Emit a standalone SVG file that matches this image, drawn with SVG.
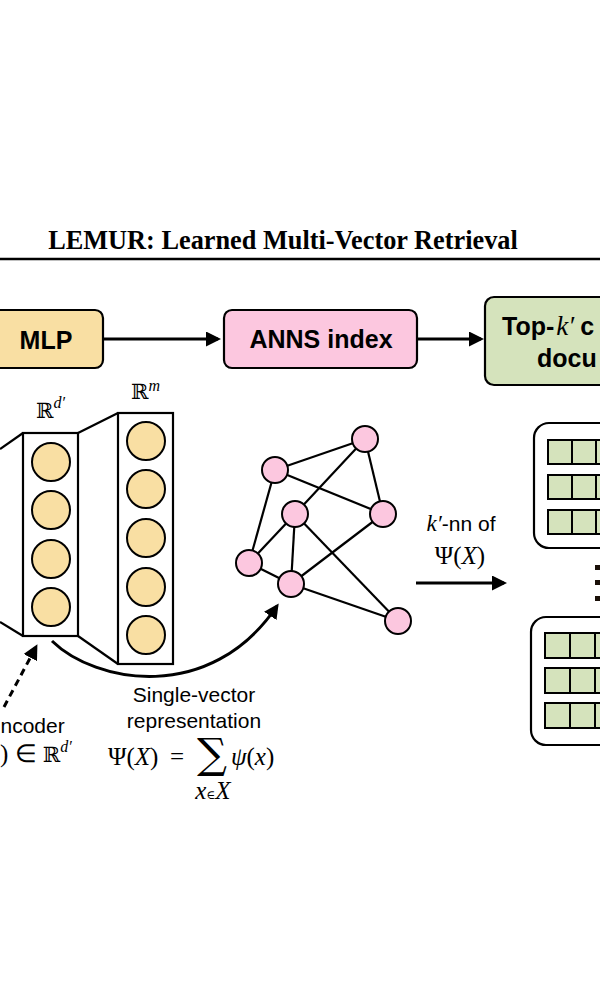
<svg xmlns="http://www.w3.org/2000/svg" width="600" height="1000" viewBox="0 0 600 1000">
<defs>
<marker id="ah" markerWidth="5" markerHeight="5" refX="4" refY="2.5" orient="auto" markerUnits="strokeWidth">
<path d="M0,0 L5,2.5 L0,5 Z" fill="#000"/>
</marker>
<marker id="ah2" markerWidth="5" markerHeight="5" refX="4" refY="2.5" orient="auto" markerUnits="strokeWidth">
<path d="M0,0 L5,2.5 L0,5 Z" fill="#000"/>
</marker>
<style>
.box{stroke:#000;stroke-width:2.2}
.orange{fill:#f9dfa3}
.pink{fill:#fcc7df}
.green{fill:#d5e3bc}
.lbl{font-family:"Liberation Sans",Arial,sans-serif;font-weight:bold;font-size:25px;fill:#000}
.sans{font-family:"Liberation Sans",Arial,sans-serif;font-size:21px;fill:#000}
.math{font-family:"Liberation Serif","Times New Roman",serif;font-size:25px;fill:#000}
.bb{font-family:"DejaVu Serif",serif;font-size:21px;fill:#000}
.edge{stroke:#000;stroke-width:2.2;fill:none}
.neuron{fill:#f9dfa3;stroke:#000;stroke-width:2}
.gnode{fill:#fcc7df;stroke:#000;stroke-width:2}
.cell{fill:#d5e3bc;stroke:#000;stroke-width:2}
.conn{stroke:#000;stroke-width:3;fill:none}
</style>
</defs>
<rect width="600" height="1000" fill="#fff"/>

<g id="title">
<text x="283" y="249" text-anchor="middle" font-family="Liberation Serif,'Times New Roman',serif" font-weight="bold" font-size="26.3">LEMUR: Learned Multi-Vector Retrieval</text>
<line x1="0" y1="259" x2="600" y2="259" stroke="#000" stroke-width="2.5"/>
</g>

<g id="mlp">
<rect class="box orange" x="-12" y="310" width="115" height="58" rx="8"/>
<text class="lbl" x="46" y="349" text-anchor="middle" font-size="26">MLP</text>
</g>

<g id="anns">
<rect class="box pink" x="224" y="310" width="193" height="58" rx="8"/>
<text class="lbl" x="321" y="348" text-anchor="middle">ANNS index</text>
</g>

<g id="topk">
<rect class="box green" x="485" y="297" width="140" height="88" rx="9"/>
<text class="lbl" x="502" y="335">Top-<tspan font-family="Liberation Serif,serif" font-style="italic" font-weight="normal" font-size="27" dx="2">k′</tspan><tspan dx="6">c</tspan></text>
<text class="lbl" x="537" y="367">docu</text>
</g>

<g id="encoder-layer">
<line class="edge" x1="0" y1="449" x2="23" y2="433"/>
<line class="edge" x1="0" y1="622" x2="23" y2="636"/>
<rect x="23" y="433" width="55" height="203" fill="#fff" class="box"/>
<circle class="neuron" cx="51" cy="462" r="19"/>
<circle class="neuron" cx="51" cy="510" r="19"/>
<circle class="neuron" cx="51" cy="559" r="19"/>
<circle class="neuron" cx="51" cy="607" r="19"/>
<text class="bb" x="36" y="418">ℝ<tspan font-family="Liberation Serif,serif" font-style="italic" font-size="16" dy="-10">d′</tspan></text>
</g>

<g id="mlp-layer">
<line class="edge" x1="78" y1="433" x2="118" y2="413"/>
<line class="edge" x1="78" y1="636" x2="118" y2="664"/>
<rect x="118" y="413" width="55" height="251" fill="#fff" class="box"/>
<circle class="neuron" cx="146" cy="441" r="19"/>
<circle class="neuron" cx="146" cy="489" r="19"/>
<circle class="neuron" cx="146" cy="538" r="19"/>
<circle class="neuron" cx="146" cy="587" r="19"/>
<circle class="neuron" cx="146" cy="635" r="19"/>
<text class="bb" x="131" y="399">ℝ<tspan font-family="Liberation Serif,serif" font-style="italic" font-size="16" dy="-8">m</tspan></text>
</g>

<g id="graph">
<g class="edge">
<line x1="275" y1="470" x2="365" y2="439"/>
<line x1="365" y1="439" x2="383" y2="514"/>
<line x1="275" y1="470" x2="383" y2="514"/>
<line x1="365" y1="439" x2="295" y2="514"/>
<line x1="275" y1="470" x2="249" y2="563"/>
<line x1="249" y1="563" x2="295" y2="514"/>
<line x1="249" y1="563" x2="291" y2="584"/>
<line x1="295" y1="514" x2="291" y2="584"/>
<line x1="295" y1="514" x2="398" y2="621"/>
<line x1="291" y1="584" x2="383" y2="514"/>
<line x1="291" y1="584" x2="398" y2="621"/>
</g>
<circle class="gnode" cx="365" cy="439" r="13"/>
<circle class="gnode" cx="275" cy="470" r="13"/>
<circle class="gnode" cx="295" cy="514" r="13"/>
<circle class="gnode" cx="383" cy="514" r="13"/>
<circle class="gnode" cx="249" cy="563" r="13"/>
<circle class="gnode" cx="291" cy="584" r="13"/>
<circle class="gnode" cx="398" cy="621" r="13"/>
</g>

<g id="doc-top">
<rect class="box" fill="#fff" x="534" y="423" width="100" height="125" rx="15"/>
<rect class="cell" x="548" y="440" width="24" height="24"/>
<rect class="cell" x="572" y="440" width="24" height="24"/>
<rect class="cell" x="596" y="440" width="24" height="24"/>
<rect class="cell" x="548" y="475" width="24" height="24"/>
<rect class="cell" x="572" y="475" width="24" height="24"/>
<rect class="cell" x="596" y="475" width="24" height="24"/>
<rect class="cell" x="548" y="510" width="24" height="24"/>
<rect class="cell" x="572" y="510" width="24" height="24"/>
<rect class="cell" x="596" y="510" width="24" height="24"/>
</g>

<g id="dots" fill="#1a1008">
<rect x="595" y="565" width="5" height="5"/>
<rect x="595" y="580" width="5" height="5"/>
<rect x="595" y="596" width="5" height="5"/>
</g>

<g id="doc-bottom">
<rect class="box" fill="#fff" x="531" y="617" width="100" height="128" rx="15"/>
<rect class="cell" x="545" y="633" width="25" height="25"/>
<rect class="cell" x="570" y="633" width="25" height="25"/>
<rect class="cell" x="595" y="633" width="25" height="25"/>
<rect class="cell" x="545" y="668" width="25" height="25"/>
<rect class="cell" x="570" y="668" width="25" height="25"/>
<rect class="cell" x="595" y="668" width="25" height="25"/>
<rect class="cell" x="545" y="703" width="25" height="25"/>
<rect class="cell" x="570" y="703" width="25" height="25"/>
<rect class="cell" x="595" y="703" width="25" height="25"/>
</g>

<g id="connectors">
<line class="conn" x1="103" y1="339" x2="218" y2="339" marker-end="url(#ah)"/>
<line class="conn" x1="417" y1="339" x2="481" y2="339" marker-end="url(#ah)"/>
<line class="conn" x1="416" y1="583" x2="504" y2="583" marker-end="url(#ah)"/>
<path class="conn" d="M52,641 C95,683 210,705 277,606" marker-end="url(#ah2)"/>
<line class="conn" x1="4" y1="707" x2="36" y2="647" stroke-dasharray="7,5" marker-end="url(#ah2)"/>
</g>

<g id="labels">
<text class="sans" x="461" y="531" text-anchor="middle"><tspan font-family="Liberation Serif,serif" font-style="italic" font-size="23">k′</tspan>-nn of</text>
<text class="math" x="460" y="564" text-anchor="middle">Ψ(<tspan font-style="italic">X</tspan>)</text>
<text class="sans" x="194" y="702" text-anchor="middle" font-size="22">Single-vector</text>
<text class="sans" x="194" y="728" text-anchor="middle" font-size="22">representation</text>
<text class="math" x="108" y="765">Ψ(<tspan font-style="italic">X</tspan>)</text>
<text class="math" x="170" y="765">=</text>
<text x="197" y="768" font-family="DejaVu Serif,serif" font-size="42">∑</text>
<text class="math" x="231" y="765" font-style="italic">ψ<tspan font-style="normal">(</tspan>x<tspan font-style="normal">)</tspan></text>
<text class="math" x="213" y="799" text-anchor="middle" font-size="15" font-style="italic">x<tspan font-style="normal" font-size="12" font-family="DejaVu Serif,serif">∈</tspan>X</text>
<text class="sans" x="0.5" y="733" font-size="20.5">ncoder</text>
<text class="math" x="0" y="762">) ∈ <tspan font-family="DejaVu Serif,serif" font-size="21">ℝ</tspan><tspan font-style="italic" font-size="16" dy="-10">d′</tspan></text>
</g>
</svg>
